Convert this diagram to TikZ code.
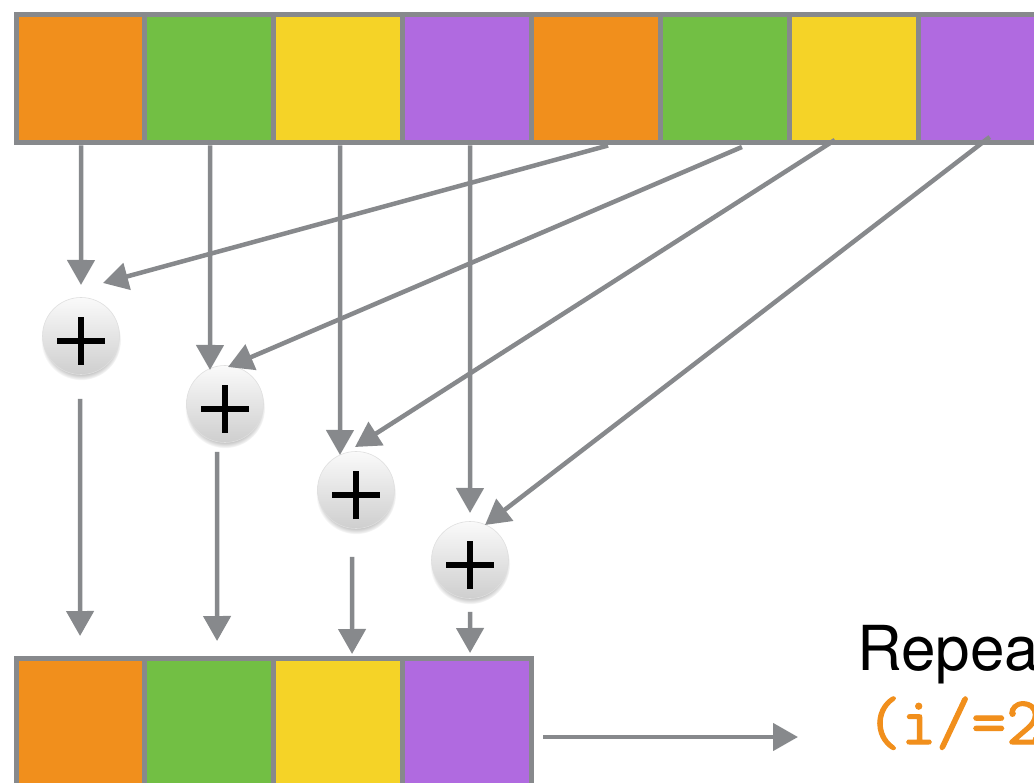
\documentclass[tikz,border=0pt]{standalone}
\usepackage{fontspec}
\newfontfamily\heros{TeX Gyre Heros}
\newfontfamily\codefont[FakeBold=1.6]{Latin Modern Mono}
\usetikzlibrary{arrows.meta,shadows}
\definecolor{corange}{HTML}{F18F1C}
\definecolor{cgreen}{HTML}{72BF44}
\definecolor{cyellow}{HTML}{F5D327}
\definecolor{cpurple}{HTML}{B06AE0}
\definecolor{cgray}{HTML}{87898C}
\tikzset{
  cell/.style={draw=cgray, line width=5pt, minimum width=128.9pt, minimum height=128.5pt, inner sep=0pt},
  arr/.style={draw=cgray, line width=4.5pt, -{Triangle[length=25pt,width=27pt]}},
  adder/.style={circle, minimum size=77pt, inner sep=0pt,
    top color=gray!4, bottom color=gray!38, draw=gray!25, line width=0.6pt,
    circular drop shadow={shadow xshift=0pt, shadow yshift=-4pt, shadow scale=1.04, opacity=0.45},
    path picture={
      \draw[black, line width=5.5pt] ([yshift=-5pt]path picture bounding box.center) ++(-24pt,0pt) -- ++(48pt,0pt);
      \draw[black, line width=5.5pt] ([yshift=-5pt]path picture bounding box.center) ++(0pt,-24pt) -- ++(0pt,48pt);
    }},
  repeattext/.style={anchor=base west, inner sep=0pt, font=\heros\fontsize{62}{70}\selectfont},
  codetext/.style={anchor=base west, inner sep=0pt, text=corange, font=\codefont\fontsize{68}{70}\selectfont}
}
\begin{document}
\begin{tikzpicture}[x=1pt,y=-1pt]
\useasboundingbox (0,0) rectangle (1034,783);
\clip (0,0) rectangle (1034,783);
\fill[white] (0,0) rectangle (1034,783);

% top row
\node[cell, fill=corange] (t1) at (80.45,78.75) {};
\node[cell, fill=cgreen]  (t2) at (209.35,78.75) {};
\node[cell, fill=cyellow] (t3) at (338.25,78.75) {};
\node[cell, fill=cpurple] (t4) at (467.15,78.75) {};
\node[cell, fill=corange] (t5) at (596.05,78.75) {};
\node[cell, fill=cgreen]  (t6) at (724.95,78.75) {};
\node[cell, fill=cyellow] (t7) at (853.85,78.75) {};
\node[cell, fill=cpurple] (t8) at (982.75,78.75) {};

% bottom row
\node[cell, fill=corange] (b1) at (80.45,722.25) {};
\node[cell, fill=cgreen]  (b2) at (209.35,722.25) {};
\node[cell, fill=cyellow] (b3) at (338.25,722.25) {};
\node[cell, fill=cpurple] (b4) at (467.15,722.25) {};

% adders
\node[adder] (p1) at (81,336) {};
\node[adder] (p2) at (225,404) {};
\node[adder] (p3) at (356,490) {};
\node[adder] (p4) at (470,560) {};

% arrow tips near adders
\coordinate (v1) at ([shift={(0,-51)}]p1.center);
\coordinate (d1) at ([shift={(22,-53)}]p1.center);
\coordinate (v2) at ([shift={(-15,-34)}]p2.center);
\coordinate (d2) at ([shift={(3,-37)}]p2.center);
\coordinate (v3) at ([shift={(-16,-35)}]p3.center);
\coordinate (d3) at ([shift={(-1,-43)}]p3.center);
\coordinate (v4) at ([shift={(0,-47)}]p4.center);
\coordinate (d4) at ([shift={(15,-35)}]p4.center);

% vertical arrows from top row
\draw[arr] ([xshift=0.6pt]t1.south) -- (v1);
\draw[arr] ([xshift=0.7pt]t2.south) -- (v2);
\draw[arr] ([xshift=1.8pt]t3.south) -- (v3);
\draw[arr] ([xshift=2.9pt]t4.south) -- (v4);

% diagonal arrows from second half
\draw[arr] ([xshift=12pt]t5.south) -- (d1);
\draw[arr] ([xshift=17pt,yshift=-1.5pt]t6.south) -- (d2);
\draw[arr] ([xshift=-19pt,yshift=5.5pt]t7.south) -- (d3);
\draw[arr] ([xshift=7pt,yshift=8.5pt]t8.south) -- (d4);

% arrows from adders to bottom row
\draw[arr] ([xshift=-1pt,yshift=-24pt]p1.south) -- ([xshift=-0.4pt,yshift=19.5pt]b1.north);
\draw[arr] ([xshift=-8pt,yshift=-9pt]p2.south) -- ([xshift=7.7pt,yshift=14.5pt]b2.north);
\draw[arr] ([xshift=-4pt,yshift=-28pt]p3.south) -- ([xshift=13.8pt,yshift=1.5pt]b3.north);
\draw[arr] ([xshift=0pt,yshift=-13pt]p4.south) -- ([xshift=2.9pt,yshift=2.5pt]b4.north);

% output arrow and text
\coordinate (r) at (798,737);
\draw[arr] ([xshift=9pt,yshift=-14.75pt]b4.east) -- (r);
\node[repeattext] (rep) at (857,670) {Repea};
\node[codetext] (code) at (866,744) {(i/=2};
\end{tikzpicture}
\end{document}
